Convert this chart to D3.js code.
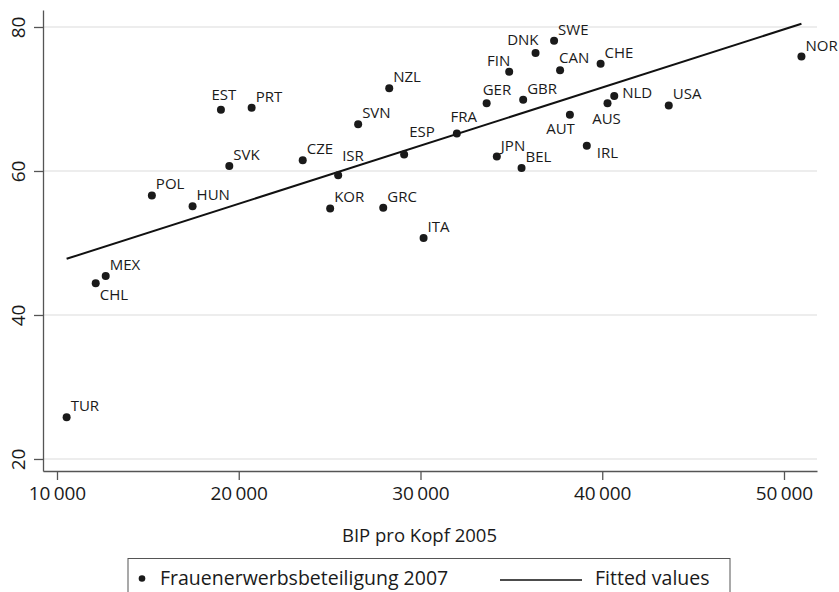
<!DOCTYPE html>
<html>
<head>
<meta charset="utf-8">
<script src="https://cdn.jsdelivr.net/npm/d3@7"></script>
<style>
  body { margin: 0; background: #fff; }
  svg { display: block; font-family: "Open Sans", sans-serif; }
</style>
</head>
<body>
<div id="chart"></div>
<script>
// OECD countries: GDP per head 2005 vs. female labour force participation 2007
const countries = ["TUR", "CHL", "MEX", "POL", "HUN", "EST", "SVK", "PRT", "CZE", "KOR",
  "ISR", "SVN", "GRC", "NZL", "ESP", "ITA", "FRA", "GER", "JPN", "FIN",
  "BEL", "GBR", "DNK", "SWE", "CAN", "AUT", "IRL", "CHE", "AUS", "NLD",
  "USA", "NOR"];
const gdp = [10530, 12130, 12680, 15220, 17460, 19020, 19480, 20710, 23520, 25030,
  25470, 26570, 27950, 28280, 29100, 30170, 32000, 33640, 34200, 34880,
  35560, 35650, 36330, 37350, 37680, 38220, 39150, 39910, 40290, 40660,
  43660, 50960];
const participation = [25.8, 44.4, 45.4, 56.6, 55.1, 68.5, 60.7, 68.8, 61.5, 54.8,
  59.4, 66.5, 54.9, 71.5, 62.3, 50.7, 65.2, 69.4, 62.0, 73.8,
  60.4, 69.9, 76.4, 78.1, 74.0, 67.8, 63.5, 74.9, 69.4, 70.4,
  69.1, 75.9];

// linear fit, end points
const fitGdp = [10530, 50960];
const fitValues = [47.8, 80.45];

const xTicks = [10000, 20000, 30000, 40000, 50000];
const yTicks = [20, 40, 60, 80];

// label placement around each marker: [dx, dy, anchor]
const labelPos = {
  EST: [3, -10, "middle"], CHL: [4, 17, "start"], ISR: [4, -14, "start"],
  ESP: [5, -17, "start"], FRA: [7, -12, "middle"], GER: [-4, -8, "start"],
  FIN: [1, -6, "end"], DNK: [3, -8, "end"], CAN: [-1, -7, "start"],
  AUT: [5, 19, "end"], NLD: [8, 2, "start"], AUS: [-1, 21, "middle"],
  IRL: [10, 12, "start"]
};

const width = 839, height = 592;
const svg = d3.select("#chart").append("svg")
  .attr("width", width).attr("height", height);

const x = d3.scaleLinear().domain([9230, 51816]).range([43, 817]);
const y = d3.scaleLinear().domain([18.33, 82.36]).range([471, 10]);

const fmt = d3.formatLocale({ decimal: ",", thousands: "\u2009", grouping: [3], currency: ["", ""] }).format(",d");

// grid
svg.append("g")
  .selectAll("line")
  .data(yTicks)
  .join("line")
    .attr("x1", 43).attr("x2", 817)
    .attr("y1", d => y(d)).attr("y2", d => y(d))
    .attr("stroke", "#ededed").attr("stroke-width", 2);

// axes
const xAxis = svg.append("g")
  .attr("transform", `translate(0,471)`)
  .call(d3.axisBottom(x).tickValues(xTicks).tickSize(9).tickSizeOuter(0).tickPadding(7).tickFormat(fmt));
xAxis.select(".domain").attr("stroke", "#555").attr("stroke-width", 1.3);
xAxis.selectAll(".tick line").attr("stroke", "#555").attr("stroke-width", 1.3);
xAxis.selectAll("text").attr("font-size", 19).attr("fill", "#1a1a1a").attr("font-family", "Open Sans");

const yAxis = svg.append("g")
  .attr("transform", `translate(43,0)`)
  .call(d3.axisLeft(y).tickValues(yTicks).tickSize(9).tickSizeOuter(0).tickFormat(d3.format("d")));
yAxis.select(".domain").attr("stroke", "#555").attr("stroke-width", 1.3);
yAxis.selectAll(".tick line").attr("stroke", "#555").attr("stroke-width", 1.3);
yAxis.selectAll("text")
  .attr("font-size", 19).attr("fill", "#1a1a1a").attr("font-family", "Open Sans")
  .attr("x", null).attr("dy", null)
  .attr("transform", "translate(-18,0) rotate(-90)")
  .attr("text-anchor", "middle");

// axis title
svg.append("text")
  .attr("x", (x(10000) + x(50000)) / 2 - 1).attr("y", 542)
  .attr("text-anchor", "middle")
  .attr("font-size", 18.5).attr("fill", "#1a1a1a")
  .text("BIP pro Kopf 2005");

// fitted line
const fitData = d3.zip(fitGdp, fitValues);
svg.append("path")
  .datum(fitData)
  .attr("fill", "none").attr("stroke", "#111").attr("stroke-width", 2)
  .attr("d", d3.line().x(d => x(d[0])).y(d => y(d[1])));

// points
const pts = d3.range(countries.length).map(i => ({ c: countries[i], g: gdp[i], p: participation[i] }));
svg.append("g")
  .selectAll("circle")
  .data(pts)
  .join("circle")
    .attr("cx", d => x(d.g)).attr("cy", d => y(d.p))
    .attr("r", 4).attr("fill", "#1a1a1a");

svg.append("g")
  .selectAll("text")
  .data(pts)
  .join("text")
    .attr("x", d => x(d.g) + (labelPos[d.c] || [4])[0])
    .attr("y", d => y(d.p) + (labelPos[d.c] || [4, -6])[1])
    .attr("text-anchor", d => (labelPos[d.c] || [4, -6, "start"])[2])
    .attr("font-size", 15).attr("fill", "#1a1a1a")
    .text(d => d.c);

// legend
const legend = svg.append("g");
legend.append("rect")
  .attr("x", 128).attr("y", 558.5).attr("width", 602).attr("height", 60)
  .attr("fill", "#fff").attr("stroke", "#555").attr("stroke-width", 1);
legend.append("circle").attr("cx", 142).attr("cy", 578.5).attr("r", 3.3).attr("fill", "#1a1a1a");
legend.append("text").attr("x", 160).attr("y", 585)
  .attr("font-size", 19.5).attr("fill", "#1a1a1a").text("Frauenerwerbsbeteiligung 2007");
legend.append("line").attr("x1", 500).attr("x2", 582).attr("y1", 580).attr("y2", 580)
  .attr("stroke", "#111").attr("stroke-width", 1.6);
legend.append("text").attr("x", 595).attr("y", 585)
  .attr("font-size", 19.5).attr("fill", "#1a1a1a").text("Fitted values");
</script>
</body>
</html>
